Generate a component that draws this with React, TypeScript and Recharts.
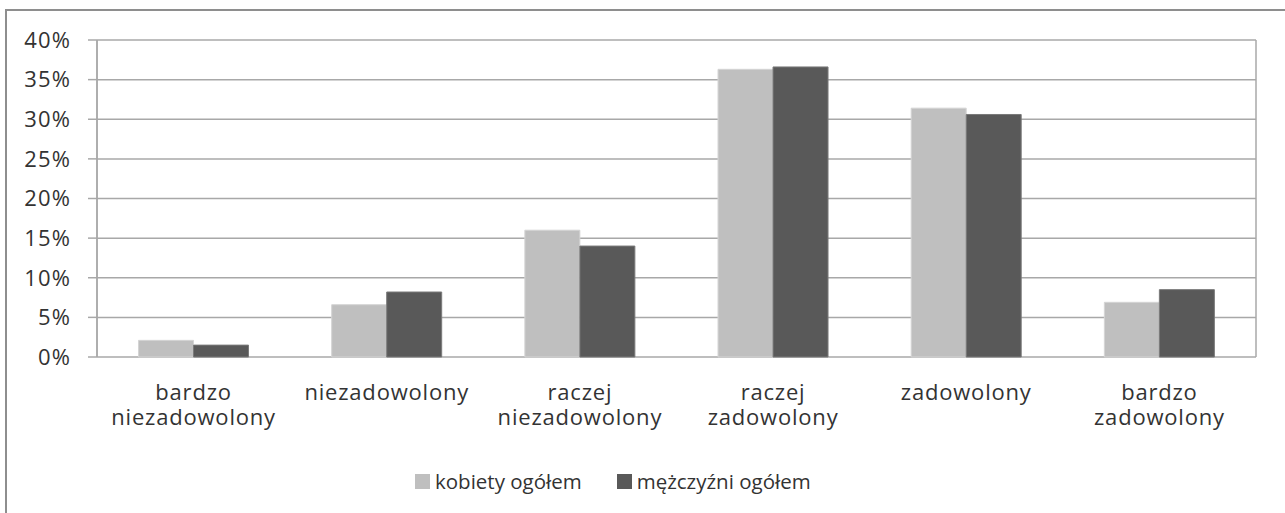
import React from 'react';
import { BarChart, Bar, XAxis, YAxis, CartesianGrid, Legend } from 'recharts';

const categories = [
  'bardzo\nniezadowolony',
  'niezadowolony',
  'raczej\nniezadowolony',
  'raczej\nzadowolony',
  'zadowolony',
  'bardzo\nzadowolony',
];
const kobietyOgolem = [2.1, 6.6, 16.0, 36.3, 31.4, 6.9];
const mezczyzniOgolem = [1.5, 8.2, 14.0, 36.6, 30.6, 8.5];
const seriesNames = ['kobiety ogółem', 'mężczyźni ogółem'];
const seriesColors = ['#bfbfbf', '#595959'];
const seriesStrokes = ['#d4d4d4', '#7a7a7a'];
const yTicks = [0, 5, 10, 15, 20, 25, 30, 35, 40];
const boundaryTicks = [0, 1, 2, 3, 4, 5, 6];

const data = categories.map((c, i) => ({
  name: c,
  idx: i + 0.5,
  k: kobietyOgolem[i],
  m: mezczyzniOgolem[i],
}));

const FONT = '"Open Sans", sans-serif';
const TEXT = '#333333';
const GRID = '#a8a8a8';

const CategoryTick = (props: any) => {
  const { x, y, payload } = props;
  const lines = String(payload.value).split('\n');
  return (
    <g>
      {lines.map((l, i) => (
        <text
          key={i}
          x={x}
          y={y + 43 + i * 25}
          textAnchor="middle"
          fontFamily={FONT}
          fontSize={22}
          letterSpacing={0.8}
          fill={TEXT}
        >
          {l}
        </text>
      ))}
    </g>
  );
};

const LegendContent = () => (
  <div style={{ display: 'flex', alignItems: 'center', fontFamily: FONT, fontSize: 20.5, color: TEXT, height: 24, whiteSpace: 'nowrap' }}>
    {seriesNames.map((n, i) => (
      <div key={n} style={{ display: 'flex', alignItems: 'center', marginRight: i === 0 ? 35 : 0 }}>
        <span style={{ display: 'inline-block', width: 15, height: 15, background: seriesColors[i], marginRight: 5 }} />
        <span>{n}</span>
      </div>
    ))}
  </div>
);

export default function App() {
  return (
    <div style={{ position: 'absolute', left: 0, top: 0, width: 1285, height: 513, overflow: 'hidden', background: '#fff' }}>
      <div style={{ position: 'absolute', left: 5, top: 9, width: 1400, height: 700, border: '2px solid #8e8e8e', boxSizing: 'border-box' }} />
      <div style={{ position: 'absolute', left: 0, top: 0 }}>
        <BarChart
          width={1285}
          height={513}
          data={data}
          margin={{ top: 40, right: 29, left: 0, bottom: 57 }}
          barCategoryGap="21.5%"
          barGap={0}
        >
          <XAxis
            xAxisId="grid"
            type="number"
            dataKey="idx"
            domain={[0, 6]}
            allowDataOverflow
            ticks={boundaryTicks}
            tick={false}
            tickSize={9}
            height={0}
            stroke={GRID}
            strokeWidth={1.5}
          />
          <XAxis
            xAxisId="cat"
            dataKey="name"
            type="category"
            height={75}
            axisLine={false}
            tickLine={false}
            tickSize={0}
            tickMargin={0}
            interval={0}
            tick={<CategoryTick />}
          />
          <YAxis
            width={97}
            domain={[0, 40]}
            ticks={yTicks}
            tickFormatter={(v: number) => `${v}%`}
            tickSize={9}
            tickMargin={17}
            stroke={GRID}
            strokeWidth={1.5}
            tick={{ fontFamily: FONT, fontSize: 22, fill: TEXT, letterSpacing: 1.1 }}
          />
          <CartesianGrid xAxisId="grid" stroke={GRID} strokeWidth={1.5} />
          <Legend
            verticalAlign="bottom"
            content={<LegendContent />}
            wrapperStyle={{ top: 469, bottom: 'auto', left: 415, width: 'auto', height: 24 }}
          />
          <Bar xAxisId="cat" dataKey="k" name={seriesNames[0]} fill={seriesColors[0]} stroke={seriesStrokes[0]} strokeWidth={1} isAnimationActive={false} />
          <Bar xAxisId="cat" dataKey="m" name={seriesNames[1]} fill={seriesColors[1]} stroke={seriesStrokes[1]} strokeWidth={1} isAnimationActive={false} />
        </BarChart>
      </div>
    </div>
  );
}
